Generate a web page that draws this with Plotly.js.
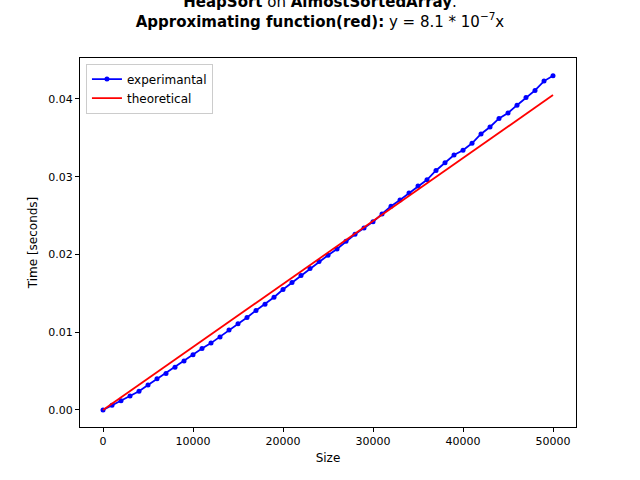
<!DOCTYPE html>
<html><head><script src="https://cdn.plot.ly/plotly-3.0.1.min.js"></script></head>
<body style="margin:0"><div id="c" style="width:640px;height:480px"></div>
<script>
const sizes = [0,1000,2000,3000,4000,5000,6000,7000,8000,9000,10000,11000,12000,13000,14000,15000,16000,17000,18000,19000,20000,21000,22000,23000,24000,25000,26000,27000,28000,29000,30000,31000,32000,33000,34000,35000,36000,37000,38000,39000,40000,41000,42000,43000,44000,45000,46000,47000,48000,49000,50000];
const times = [0,0.0006,0.0012,0.0018,0.0024,0.0032,0.004,0.0047,0.0055,0.0063,0.0071,0.0079,0.0086,0.0094,0.0103,0.0111,0.0119,0.0128,0.0136,0.0145,0.0155,0.0164,0.0173,0.0182,0.0191,0.0199,0.0207,0.0217,0.0226,0.0234,0.0242,0.0252,0.0262,0.027,0.0279,0.0288,0.0296,0.0308,0.0318,0.0328,0.0334,0.0343,0.0355,0.0364,0.0375,0.0382,0.0392,0.0402,0.0411,0.0423,0.043];
const theoX = [0,50000];
const theoY = [0,0.0405];
const ax = {showgrid:false,zeroline:false,showline:true,mirror:true,linecolor:'black',linewidth:1,ticks:'outside',ticklen:4,tickcolor:'black',tickfont:{size:11,color:'black'}};
Plotly.newPlot('c',[
 {x:sizes,y:times,mode:'lines+markers',name:'experimantal',line:{color:'blue',width:1.8},marker:{color:'blue',size:5}},
 {x:theoX,y:theoY,mode:'lines',name:'theoretical',line:{color:'red',width:1.8}}
],{
 width:640,height:480,margin:{l:80,r:64,t:58,b:53},
 font:{family:'DejaVu Sans',color:'black'},
 title:{text:'<b>HeapSort</b> on <b>AlmostSortedArray</b>.<br><b>Approximating function(red):</b> y = 8.1 * 10<sup>−7</sup>x',font:{size:15},x:0.5,y:0.985,yanchor:'top'},
 xaxis:Object.assign({},ax,{range:[-2555,52555],tickvals:[0,10000,20000,30000,40000,50000],ticktext:['0','10000','20000','30000','40000','50000'],title:{text:'Size',font:{size:12},standoff:6}}),
 yaxis:Object.assign({},ax,{range:[-0.00219,0.04527],tickvals:[0,0.01,0.02,0.03,0.04],ticktext:['0.00','0.01','0.02','0.03','0.04'],title:{text:'Time [seconds]',font:{size:12},standoff:8}}),
 showlegend:true,
 legend:{x:0.012,y:0.985,xanchor:'left',yanchor:'top',bordercolor:'#ccc',borderwidth:1,font:{size:12},bgcolor:'white',tracegroupgap:0},
 plot_bgcolor:'white',paper_bgcolor:'white'
},{displayModeBar:false});
</script></body></html>
